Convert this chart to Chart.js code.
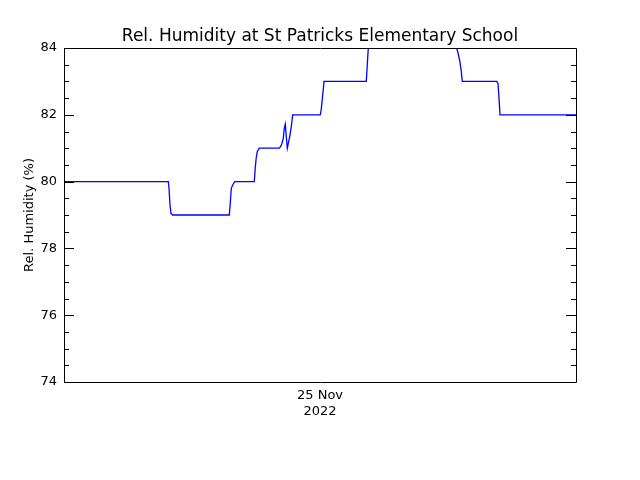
<!DOCTYPE html>
<html>
<head>
<meta charset="utf-8">
<script src="https://cdn.jsdelivr.net/npm/chart.js@4"></script>
<style>
html,body{margin:0;padding:0;background:#fff;}
#c{display:block;}
</style>
</head>
<body>
<canvas id="c" width="640" height="480"></canvas>
<script>
// Hours relative to 00:00, 25 Nov 2022
const hours = [-12.0, -7.111, -7.078, -7.031, -6.984, -6.905, -4.252, -4.205, -4.158, -4.092, -3.998,
  -3.080, -3.033, -2.986, -2.939, -2.845, -1.908, -1.842, -1.781, -1.720, -1.673, -1.627, -1.58, -1.533,
  -1.467, -1.406, -1.345, -1.280, 0.014, 0.061, 0.108, 0.155, 0.188, 2.170, 2.217, 2.264, 2.344, 2.578,
  6.094, 6.281, 6.408, 6.483, 6.563, 6.623, 6.670, 8.283, 8.344, 8.391, 8.438, 8.484, 12.0];
const humidity = [80.0, 80.0, 79.8, 79.3, 79.05, 79.0, 79.0, 79.35, 79.8, 79.9, 80.0,
  80.0, 80.43, 80.73, 80.9, 81.0, 81.0, 81.05, 81.15, 81.3, 81.6, 81.72, 81.35, 81.0,
  81.2, 81.4, 81.65, 82.0, 82.0, 82.17, 82.47, 82.77, 83.0, 83.0, 83.5, 84.0, 84.6, 85.0,
  85.0, 84.4, 84.0, 83.82, 83.57, 83.3, 83.0, 83.0, 82.94, 82.5, 82.0, 82.0, 82.0];
const xTickValues = [0];
const xTickLabels = [['25 Nov', '2022']];
const yMin = 74, yMax = 84, yMajorStep = 2, yMinorStep = 0.5;
const titleText = 'Rel. Humidity at St Patricks Elementary School';
const yTitleText = 'Rel. Humidity (%)';

const FONT = 'DejaVu Sans';

const boxAndTicks = {
  id: 'boxAndTicks',
  afterDatasetsDraw(chart) {
    const ctx = chart.ctx, a = chart.chartArea, ys = chart.scales.y;
    ctx.save();
    ctx.strokeStyle = '#000';
    ctx.lineWidth = 1;
    ctx.beginPath();
    ctx.rect(Math.round(a.left) + 0.5, Math.round(a.top) + 0.5,
             Math.round(a.right - a.left), Math.round(a.bottom - a.top));
    ctx.stroke();
    ctx.beginPath();
    ys.ticks.forEach(t => {
      const y = Math.round(ys.getPixelForValue(t.value)) + 0.5;
      const isMajor = Math.abs(t.value / yMajorStep - Math.round(t.value / yMajorStep)) < 1e-6;
      const len = isMajor ? 10 : 5;
      ctx.moveTo(a.left, y); ctx.lineTo(a.left + len, y);
      ctx.moveTo(a.right, y); ctx.lineTo(a.right - len, y);
    });
    ctx.stroke();
    ctx.restore();
  }
};

new Chart(document.getElementById('c'), {
  type: 'line',
  data: {
    datasets: [{
      data: hours.map((h, i) => ({x: h, y: humidity[i]})),
      borderColor: '#0000ff',
      borderWidth: 1.3,
      pointRadius: 0,
      tension: 0,
      fill: false,
      yAxisID: 'y'
    }]
  },
  options: {
    responsive: false,
    animation: false,
    devicePixelRatio: 1,
    layout: {padding: 0},
    plugins: {
      legend: {display: false},
      tooltip: {enabled: false},
      title: {
        display: true,
        text: titleText,
        color: '#000',
        font: {family: FONT, size: 17, weight: 'normal'},
        padding: {top: 26, bottom: 1.6}
      }
    },
    scales: {
      x: {
        type: 'linear',
        min: -12, max: 12,
        grid: {display: false, drawTicks: false},
        border: {display: false},
        afterBuildTicks: s => { s.ticks = xTickValues.map(v => ({value: v})); },
        afterFit: s => { s.height = 98; },
        ticks: {
          color: '#000',
          padding: 6,
          maxRotation: 0,
          autoSkip: false,
          font: {family: FONT, size: 13},
          callback: (v) => { const i = xTickValues.indexOf(v); return i >= 0 ? xTickLabels[i] : ''; }
        }
      },
      y: {
        type: 'linear',
        position: 'left',
        min: yMin, max: yMax,
        grid: {display: false, drawTicks: false},
        border: {display: false},
        afterFit: s => { s.width = 64; },
        title: {
          display: true,
          text: yTitleText,
          color: '#000',
          font: {family: FONT, size: 13},
          padding: {top: 22, bottom: 0}
        },
        ticks: {
          stepSize: yMinorStep,
          autoSkip: false,
          color: '#000',
          padding: 7,
          font: {family: FONT, size: 13},
          callback: (v) => (Math.abs(v / yMajorStep - Math.round(v / yMajorStep)) < 1e-6 ? String(Math.round(v)) : '')
        }
      },
      yRight: {
        type: 'linear',
        position: 'right',
        min: yMin, max: yMax,
        grid: {display: false, drawTicks: false},
        border: {display: false},
        ticks: {display: false},
        afterFit: s => { s.width = 64; }
      }
    }
  },
  plugins: [boxAndTicks]
});
</script>
</body>
</html>
